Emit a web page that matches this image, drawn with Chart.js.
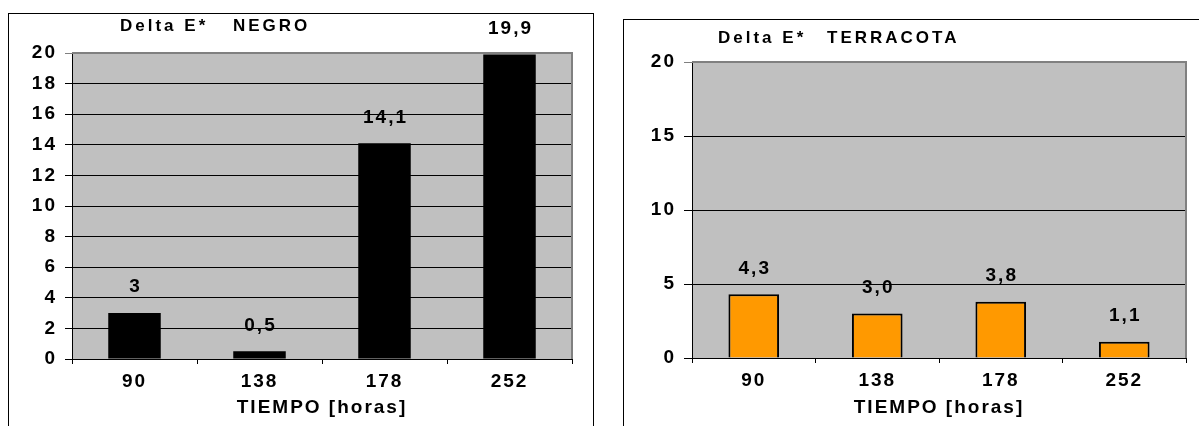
<!DOCTYPE html>
<html lang="es">
<head>
    <meta charset="UTF-8">
    <title>Delta E*</title>
    <style>
        body{ margin:0; background:#fff; overflow:hidden; }
        .caja{ position:absolute; border:1px solid #000; }
        #caja1{ left:8px; top:13px; width:584px; height:420px; }
        #caja2{ left:623px; top:19px; width:580px; height:420px; }
        canvas{ display:block; }
    </style>
</head>
<body>
    <div class="caja" id="caja1">
        <canvas id="grafico1" width="584" height="412"></canvas>
    </div>
    <div class="caja" id="caja2">
        <canvas id="grafico2" width="580" height="406"></canvas>
    </div>

    <script src="https://cdn.jsdelivr.net/npm/chart.js"></script>

<script>
  // datos
  const categorias = ["90", "138", "178", "252"];
  const valoresNegro = [3, 0.5, 14.1, 19.9];
  const valoresTerracota = [4.3, 3.0, 3.8, 1.1];
  const ticksNegro = [0, 2, 4, 6, 8, 10, 12, 14, 16, 18, 20];
  const ticksTerracota = [0, 5, 10, 15, 20];
  const tituloNegro = ["Delta E*", "NEGRO"];
  const tituloTerracota = ["Delta E*", "TERRACOTA"];
  const tituloEje = "TIEMPO [horas]";

  const fuente = "'Liberation Sans', Arial, sans-serif";

  // fondo gris, etiquetas de valores y titulo (conf va en el closure)
  function plugFondo(conf){
    return {
      id: 'fondo',
      beforeDraw(chart){
        const a = chart.chartArea, c = chart.ctx;
        c.letterSpacing = '2px';
        c.save();
        c.fillStyle = '#c0c0c0';
        c.fillRect(a.left, a.top, a.right - a.left, a.bottom - a.top);
        c.restore();
      },
      beforeDatasetsDraw(chart){
        const a = chart.chartArea, c = chart.ctx;
        c.save();
        c.strokeStyle = '#808080';
        c.lineWidth = 2;
        c.beginPath();
        c.moveTo(a.left, a.top);
        c.lineTo(a.right, a.top);
        c.lineTo(a.right, a.bottom);
        c.stroke();
        c.restore();
      },
      afterDatasetsDraw(chart){
        const c = chart.ctx;
        const meta = chart.getDatasetMeta(0);
        const datos = chart.data.datasets[0].data;
        c.save();
        c.fillStyle = '#000';
        c.font = 'bold 19px ' + fuente;
        c.textAlign = 'center';
        c.textBaseline = 'middle';
        c.letterSpacing = '2px';
        meta.data.forEach((barra, i) => {
          c.fillText(conf.formato(datos[i]), barra.x + 1, barra.y - 26);
        });
        // titulo
        c.font = 'bold 17px ' + fuente;
        c.textAlign = 'left';
        c.letterSpacing = '3px';
        c.fillText(conf.titulo[0], conf.tx[0], conf.ty);
        c.fillText(conf.titulo[1], conf.tx[1], conf.ty);
        c.restore();
      }
    };
  }

  function crearGrafico(id, valores, ticks, color, borde, ancho, conf){
    const maximo = ticks[ticks.length - 1];
    const letra = { family: fuente, size: 19, weight: 'bold' };
    return new Chart(document.getElementById(id), {
      type: 'bar',
      data: {
        labels: categorias,
        datasets: [{
          data: valores,
          backgroundColor: color,
          borderColor: '#000',
          borderWidth: borde,
          categoryPercentage: 1,
          barPercentage: ancho
        }]
      },
      plugins: [plugFondo(conf)],
      options: {
        responsive: false,
        animation: false,
        layout: { padding: { left: 0, top: conf.arriba, right: conf.derecha, bottom: 0 } },
        plugins: {
          legend: { display: false },
          tooltip: { enabled: false }
        },
        scales: {
          x: {
            afterFit(s){ s.height = conf.altoX; },
            grid: { drawOnChartArea: false, drawTicks: true, tickLength: 5, color: '#000', offset: true },
            border: { color: '#000', width: 1 },
            ticks: { color: '#000', padding: 6, maxRotation: 0, font: letra },
            title: {
              display: true, text: tituloEje, color: '#000',
              padding: { top: 0, bottom: 7 },
              font: letra
            }
          },
          y: {
            min: ticks[0],
            max: maximo,
            afterFit(s){ s.width = conf.anchoY; },
            grid: {
              color: ctx => (ctx.tick && ctx.tick.value === maximo) ? '#808080' : '#000',
              lineWidth: 1,
              tickLength: conf.marca
            },
            border: { color: '#000', width: 1 },
            ticks: {
              stepSize: ticks[1] - ticks[0],
              color: '#000',
              padding: conf.sep,
              font: letra
            }
          }
        }
      }
    });
  }

  crearGrafico('grafico1', valoresNegro, ticksNegro, '#000', 0, 0.42, {
    arriba: 39, derecha: 21, altoX: 67, anchoY: 63, marca: 7, sep: 8,
    titulo: tituloNegro, tx: [111, 224], ty: 12,
    formato: v => String(v).replace('.', ',')
  });

  crearGrafico('grafico2', valoresTerracota, ticksTerracota, '#ff9900', 2, 0.41, {
    arriba: 42, derecha: 18, altoX: 68, anchoY: 68, marca: 8, sep: 8,
    titulo: tituloTerracota, tx: [94, 203], ty: 18,
    formato: v => v.toFixed(1).replace('.', ',')
  });
</script>
</body>
</html>
